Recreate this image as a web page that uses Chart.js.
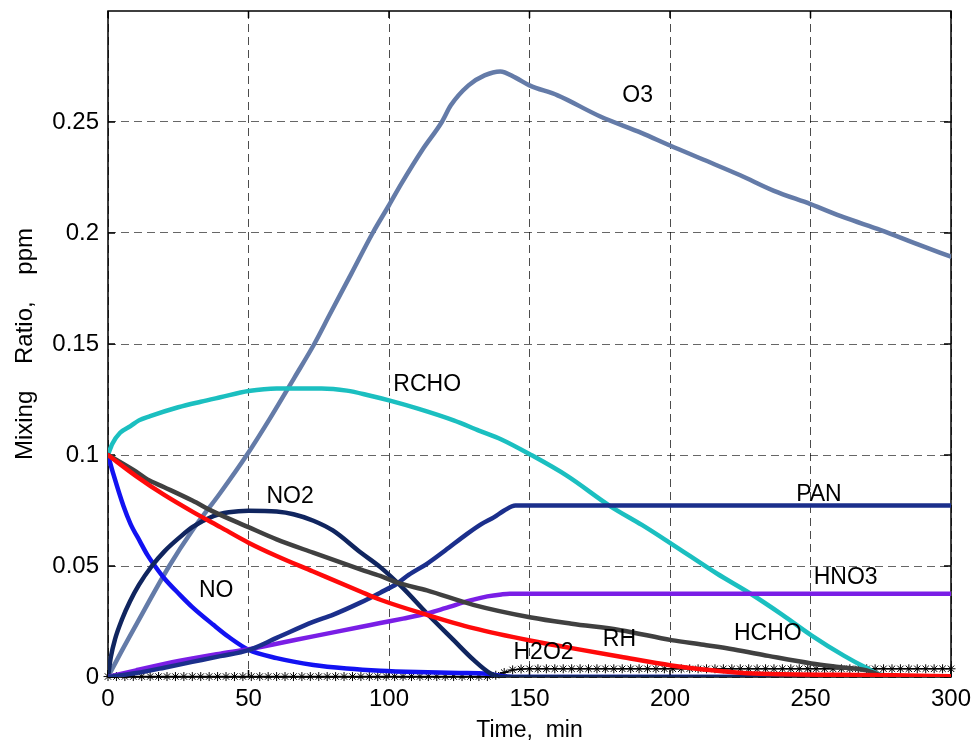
<!DOCTYPE html>
<html>
<head>
<meta charset="utf-8">
<script src="https://cdn.jsdelivr.net/npm/chart.js@4"></script>
<style>
  html, body { margin: 0; padding: 0; background: #ffffff; }
  #wrap { width: 980px; height: 744px; position: relative; }
</style>
</head>
<body>
<div id="wrap"><canvas id="c" width="980" height="744"></canvas></div>
<script>
// ---- Data (time in min, mixing ratio in ppm) ----
const o3T   = [0,5,10,21.8,30,40,49.4,57.6,66.4,73.4,79,86.6,94.2,100,104.3,111.9,118.8,122,128.3,134,139.6,145,150,160,175,190,200,212,225,237,250,262,275,288,300];
const o3V   = [0,0.012,0.0235,0.05,0.066,0.083,0.1,0.1164,0.135,0.15,0.1635,0.1817,0.2,0.2125,0.222,0.2375,0.25,0.2575,0.2665,0.271,0.2728,0.27,0.2665,0.262,0.2526,0.245,0.2394,0.233,0.226,0.219,0.213,0.207,0.2013,0.195,0.1893];

const rchoT = [0,1.5,4.3,8,11,15,25,33,40,50,60,68,76,85,93,100,110,123,132,140,150.6,163.4,178.8,190,200.5,216.8,228.7,240,250.3,262,270,275,285,300];
const rchoV = [0.1,0.105,0.11,0.113,0.1156,0.1175,0.1215,0.124,0.126,0.1288,0.13,0.13,0.13,0.129,0.1268,0.1246,0.121,0.1156,0.111,0.107,0.1,0.0906,0.0769,0.0685,0.06,0.0465,0.0375,0.028,0.0188,0.0095,0.004,0.001,0,0];

const noT   = [0,2,5.5,8,11.4,14,16.7,20,25.6,30,37.5,43,50,60,73.1,85,96.9,110,125,135,140,145,300];
const noV   = [0.1,0.091,0.077,0.069,0.061,0.055,0.05,0.0445,0.037,0.0315,0.0235,0.018,0.0123,0.0085,0.0054,0.0038,0.0028,0.0022,0.0018,0.0015,0.0005,0,0];

const no2T  = [0,1,2.5,5,7.8,11,15.6,20,25.6,30,37.5,43,50,60,66,73.1,80,89.8,96.9,105,113.5,123,130.2,136,140,300];
const no2V  = [0,0.009,0.017,0.026,0.034,0.0415,0.05,0.0565,0.063,0.0675,0.0725,0.0742,0.0749,0.0745,0.0733,0.0704,0.066,0.0562,0.0495,0.04,0.0286,0.0166,0.0076,0.0017,0,0];

const panT  = [0,10,20,30,40,50,60,73,80,89.8,96.9,102.8,107,113.5,120,127.8,133,137.3,141,145,300];
const panV  = [0,0.0018,0.0042,0.0068,0.0094,0.0121,0.0176,0.0248,0.028,0.0335,0.038,0.042,0.046,0.051,0.057,0.0645,0.069,0.0719,0.075,0.0772,0.0772];

const hno3T = [0,10,25.6,40,50,60,73,89.8,96.9,105,113.5,120,129,135,140,143,300];
const hno3V = [0,0.003,0.0073,0.0105,0.0125,0.015,0.0183,0.0225,0.0243,0.0263,0.0286,0.031,0.0345,0.0363,0.0372,0.0375,0.0375];

const hchoT = [0,10,14,20,30,37.5,50,60,73,89.8,96.9,103,113.5,130,150.6,165,182.4,200.5,212,222.8,235,250.3,260,270,276,300];
const hchoV = [0.1,0.0925,0.089,0.0855,0.0795,0.0745,0.0675,0.062,0.056,0.0485,0.0455,0.0425,0.039,0.0325,0.0268,0.024,0.0211,0.0166,0.0145,0.0124,0.0095,0.0061,0.0045,0.003,0.0005,0];

const rhT   = [0,10,20,30,40,50,60,73,89.8,96.9,113.5,130,150.6,165,182.4,200.5,215,227.5,240,260,280,300];
const rhV   = [0.1,0.0905,0.082,0.0745,0.0675,0.0605,0.0545,0.0475,0.0385,0.0348,0.028,0.022,0.0163,0.013,0.0091,0.0052,0.003,0.0017,0.0012,0.001,0.0008,0.0003];

const h2o2T = [0,3,6,9,12,15,18,21,24,27,30,33,36,39,42,45,48,51,54,57,60,63,66,69,72,75,78,81,84,87,90,93,96,99,102,105,108,111,114,117,120,123,126,129,132,135,138,141,144,147,150,153,156,159,162,165,168,171,174,177,180,183,186,189,192,195,198,201,204,207,210,213,216,219,222,225,228,231,234,237,240,243,246,249,252,255,258,261,264,267,270,273,276,279,282,285,288,291,294,297,300];
const h2o2V = [0.0002,0.0002,0.0002,0.0002,0.0002,0.0002,0.0002,0.0002,0.0002,0.0002,0.0002,0.0002,0.0002,0.0002,0.0002,0.0002,0.0002,0.0002,0.0002,0.0002,0.0002,0.0002,0.0002,0.0002,0.0002,0.0002,0.0002,0.0002,0.0002,0.0002,0.0002,0.0002,0.0002,0.0002,0.0002,0.0002,0.0002,0.0002,0.0002,0.0002,0.0002,0.0002,0.0002,0.0002,0.0002,0.0002,0.0008,0.002,0.0032,0.0036,0.0037,0.0037,0.0037,0.0037,0.0037,0.0037,0.0037,0.0037,0.0037,0.0037,0.0037,0.0037,0.0037,0.0037,0.0037,0.0037,0.0037,0.0037,0.0037,0.0037,0.0037,0.0037,0.0037,0.0037,0.0037,0.0037,0.0037,0.0037,0.0037,0.0037,0.0037,0.0037,0.0037,0.0037,0.0037,0.0037,0.0037,0.0037,0.0037,0.0037,0.0037,0.0037,0.0037,0.0037,0.0037,0.0037,0.0037,0.0037,0.0037,0.0037,0.0037];

// Curve labels (text, time, value)
const labelText = ['O3','RCHO','NO2','NO','PAN','HNO3','H2O2','RH','HCHO'];
const labelT    = [188.5,113.6,64.8,38.5,253,262.5,155,182,234.8];
const labelV    = [0.262,0.1319,0.0812,0.039,0.0821,0.0449,0.0108,0.0166,0.0193];

// Axis ticks
const xTicks = [0,50,100,150,200,250,300];
const yTicks = [0,0.05,0.1,0.15,0.2,0.25];

function pts(T, V) { return T.map((t, i) => ({ x: t, y: V[i] })); }

const FONT = "'Liberation Sans', Arial, Helvetica, sans-serif";

function lineDs(label, T, V, color) {
  return {
    label: label,
    data: pts(T, V),
    borderColor: color,
    backgroundColor: color,
    borderWidth: 4.5,
    pointRadius: 0,
    fill: false,
    cubicInterpolationMode: 'monotone',
    borderJoinStyle: 'round',
    borderCapStyle: 'round'
  };
}

const datasets = [
  lineDs('RH', rhT, rhV, '#ff0a0a'),
  lineDs('HCHO', hchoT, hchoV, '#404040'),
  lineDs('PAN', panT, panV, '#1b2f8c'),
  lineDs('HNO3', hno3T, hno3V, '#7a1ee6'),
  lineDs('NO2', no2T, no2V, '#10255f'),
  lineDs('NO', noT, noV, '#1212f2'),
  lineDs('RCHO', rchoT, rchoV, '#1bbfc0'),
  lineDs('O3', o3T, o3V, '#647ba8'),
  {
    label: 'H2O2',
    data: pts(h2o2T, h2o2V),
    borderColor: '#000000',
    backgroundColor: '#000000',
    borderWidth: 1.5,
    pointStyle: 'star',
    pointRadius: 4.5,
    pointBorderWidth: 1,
    pointHoverRadius: 4.5,
    fill: false,
    clip: false
  }
];
// draw H2O2 first (underneath)
datasets.forEach((d, i) => { d.order = (d.label === 'H2O2') ? 100 : i; });

const frame = {
  id: 'frame',
  beforeDatasetsDraw(chart) {
    const { ctx, chartArea: a, scales } = chart;
    ctx.save();
    ctx.strokeStyle = '#000';
    ctx.lineWidth = 1.5;
    ctx.beginPath();
    xTicks.forEach(t => {
      const px = scales.x.getPixelForValue(t);
      ctx.moveTo(px, a.bottom); ctx.lineTo(px, a.bottom - 7);
      ctx.moveTo(px, a.top); ctx.lineTo(px, a.top + 7);
    });
    yTicks.forEach(v => {
      const py = scales.y.getPixelForValue(v);
      ctx.moveTo(a.left, py); ctx.lineTo(a.left + 7, py);
      ctx.moveTo(a.right, py); ctx.lineTo(a.right - 7, py);
    });
    ctx.stroke();
    ctx.strokeRect(a.left, a.top, a.right - a.left, a.bottom - a.top);
    ctx.restore();
  },
  afterDatasetsDraw(chart) {
    const { ctx, scales } = chart;
    ctx.save();
    ctx.fillStyle = '#000';
    ctx.font = '23px ' + FONT;
    ctx.textAlign = 'center';
    ctx.textBaseline = 'middle';
    labelText.forEach((s, i) => {
      ctx.fillText(s, scales.x.getPixelForValue(labelT[i]), scales.y.getPixelForValue(labelV[i]));
    });
    ctx.restore();
  }
};

new Chart(document.getElementById('c'), {
  type: 'line',
  data: { datasets: datasets },
  plugins: [frame],
  options: {
    responsive: false,
    animation: false,
    events: [],
    layout: { padding: { top: 0, right: 29, left: 0, bottom: 0 } },
    plugins: { legend: { display: false }, tooltip: { enabled: false } },
    scales: {
      x: {
        type: 'linear',
        min: 0, max: 300,
        afterFit(s) { s.height = 67; },
        afterBuildTicks(s) { s.ticks = xTicks.map(v => ({ value: v })); },
        grid: { color: 'rgba(0,0,0,0.7)', lineWidth: 1, drawTicks: false },
        border: { display: false, dash: [8, 5] },
        ticks: { color: '#000', font: { family: FONT, size: 24 }, padding: 8, maxRotation: 0,
                 callback: v => String(v) },
        title: { display: true, text: 'Time,  min', color: '#000', font: { family: FONT, size: 23 }, padding: { top: 0, bottom: 0 } }
      },
      y: {
        type: 'linear',
        min: 0, max: 0.3,
        afterFit(s) { s.width = 108; s.paddingTop = 11; s.paddingBottom = 0; },
        afterBuildTicks(s) { s.ticks = yTicks.map(v => ({ value: v })); },
        grid: { color: 'rgba(0,0,0,0.6)', lineWidth: 1, drawTicks: false },
        border: { display: false, dash: [8, 5] },
        ticks: { color: '#000', font: { family: FONT, size: 24 }, padding: 9,
                 callback: v => String(+v.toFixed(2)) },
        title: { display: true, text: 'Mixing    Ratio,    ppm', color: '#000', font: { family: FONT, size: 24 }, padding: { top: 11, bottom: 0 } }
      }
    }
  }
});
</script>
</body>
</html>
